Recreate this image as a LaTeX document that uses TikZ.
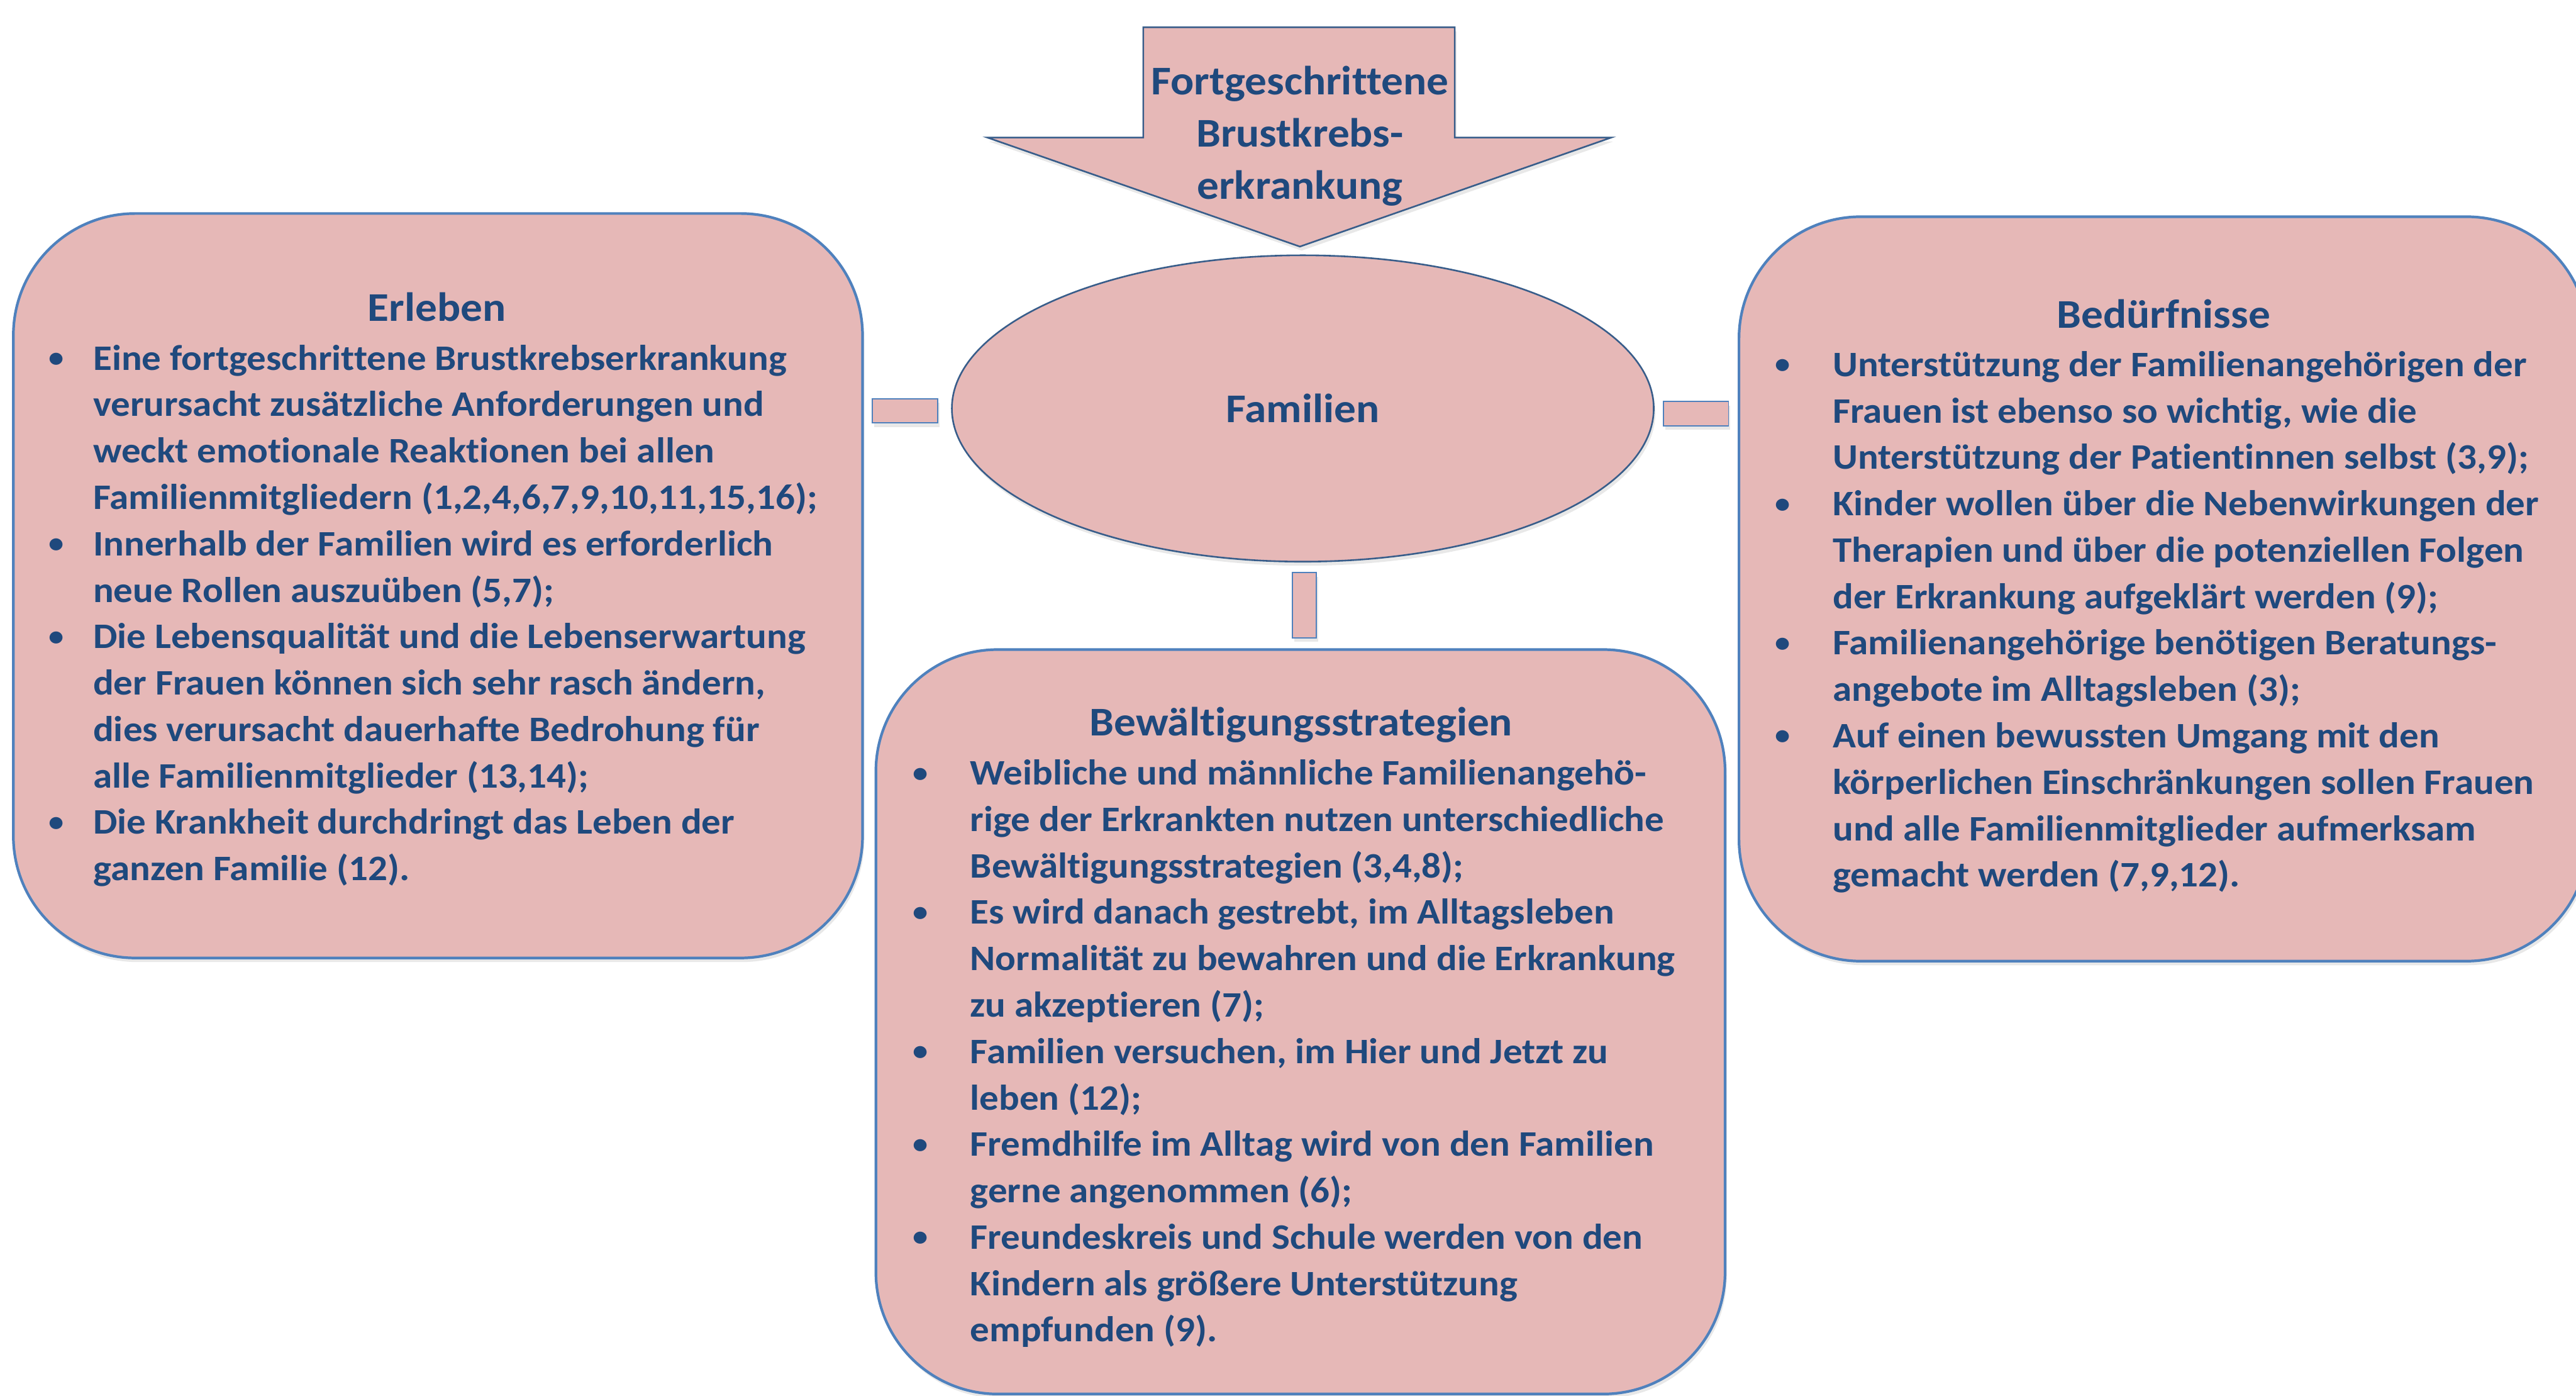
\documentclass[tikz,border=0pt]{standalone}
\usepackage{fontspec}
\setmainfont{Carlito}[FakeStretch=1.07, Ligatures=NoCommon]
\usepackage{tikz}
\usetikzlibrary{shapes.geometric, shadows}
\definecolor{cbpink}{HTML}{E6B8B7}
\definecolor{cbblue}{HTML}{4F81BD}
\definecolor{cbnavy}{HTML}{385D8A}
\definecolor{cbtext}{HTML}{1F497D}
\tikzstyle{softshadow} = [drop shadow={opacity=0.18, shadow xshift=0.03cm, shadow yshift=-0.07cm}]
\tikzstyle{themebox} = [rectangle, rounded corners=2.1cm, minimum width=14.64cm, minimum height=12.83cm,
inner sep=0pt, draw=cbblue, line width=1.3pt, fill=cbpink, softshadow]
\tikzstyle{linkbar} = [rectangle, inner sep=0pt, draw=cbblue, line width=0.6pt, fill=cbpink, softshadow]
\tikzstyle{centre} = [ellipse, minimum width=12.1cm, minimum height=5.28cm, inner sep=0pt,
draw=cbnavy, line width=0.8pt, fill=cbpink, softshadow, text=cbtext, font=\fontsize{20}{25.6}\selectfont\bfseries]
\tikzstyle{bigarrow} = [draw=cbnavy, line width=0.8pt, fill=cbpink, softshadow]
\tikzstyle{heading} = [inner sep=0pt, anchor=base, text=cbtext, font=\fontsize{20}{25.6}\selectfont\bfseries]
\tikzstyle{bullets} = [inner sep=0pt, anchor=north west, align=left, text=cbtext,
font=\fontsize{17.6}{22.76}\selectfont\bfseries]
\newcommand{\bpt}[1]{\llap{\raisebox{0.08em}{\fontsize{14}{14}\selectfont\textbullet}\hspace{#1}}}

\begin{document}
\begin{tikzpicture}
\useasboundingbox (0,0) rectangle (44.41,24.05);

% ------------------------- shapes -------------------------
% ----- arrow: Fortgeschrittene Brustkrebserkrankung
\draw[bigarrow] (19.71,23.58) -- (25.08,23.58) -- (25.08,21.68) -- (27.78,21.68) -- (22.41,19.80)
  -- (17.02,21.68) -- (19.71,21.68) -- cycle;
\node(fbk)[heading, anchor=north, align=center] at (22.41,23.05)
  {\strut Fortgeschrittene\\Brustkrebs-\\erkrankung};
% ----- centre: Familien
\node(fam)[centre] at (22.46,17.01) {Familien};
% ----- boxes
\node(erl)[themebox] at (7.55,13.955) {};
\node(bed)[themebox] at (37.30,13.90) {};
\node(bew)[themebox] at (22.42,6.44) {};
% ----- small bars between the shapes
\node(barl)[linkbar, minimum width=1.13cm, minimum height=0.42cm] at (15.605,16.97) {};
\node(barr)[linkbar, minimum width=1.12cm, minimum height=0.42cm] at (29.24,16.92) {};
\node(barb)[linkbar, minimum width=0.41cm, minimum height=1.12cm] at (22.485,13.62) {};

% ------------------------- texts -------------------------
% ----- Erleben
\node(erlhead)[heading] at (7.53,18.51) {Erleben};
\node(erllist)[bullets] at (1.60,18.24) {\strut\bpt{0.50cm}Eine fortgeschrittene Brustkrebserkrankung\\
verursacht zusätzliche Anforderungen und\\
weckt emotionale Reaktionen bei allen\\
Familienmitgliedern (1,2,4,6,7,9,10,11,15,16);\\
\bpt{0.50cm}Innerhalb der Familien wird es erforderlich\\
neue Rollen auszuüben (5,7);\\
\bpt{0.50cm}Die Lebensqualität und die Lebenserwartung\\
der Frauen können sich sehr rasch ändern,\\
dies verursacht dauerhafte Bedrohung für\\
alle Familienmitglieder (13,14);\\
\bpt{0.50cm}Die Krankheit durchdringt das Leben der\\
ganzen Familie (12).};
% ----- Bedürfnisse
\node(bedhead)[heading] at (37.30,18.40) {Bedürfnisse};
\node(bedlist)[bullets] at (31.59,18.13) {\strut\bpt{0.73cm}Unterstützung der Familienangehörigen der\\
Frauen ist ebenso so wichtig, wie die\\
Unterstützung der Patientinnen selbst (3,9);\\
\bpt{0.73cm}Kinder wollen über die Nebenwirkungen der\\
Therapien und über die potenziellen Folgen\\
der Erkrankung aufgeklärt werden (9);\\
\bpt{0.73cm}Familienangehörige benötigen Beratungs-\\
angebote im Alltagsleben (3);\\
\bpt{0.73cm}Auf einen bewussten Umgang mit den\\
körperlichen Einschränkungen sollen Frauen\\
und alle Familienmitglieder aufmerksam\\
gemacht werden (7,9,12).};
% ----- Bewältigungsstrategien
\node(bewhead)[heading] at (22.43,11.37) {Bewältigungsstrategien};
\node(bewlist)[bullets] at (16.72,11.09) {\strut\bpt{0.73cm}Weibliche und männliche Familienangehö-\\
rige der Erkrankten nutzen unterschiedliche\\
Bewältigungsstrategien (3,4,8);\\
\bpt{0.73cm}Es wird danach gestrebt, im Alltagsleben\\
Normalität zu bewahren und die Erkrankung\\
zu akzeptieren (7);\\
\bpt{0.73cm}Familien versuchen, im Hier und Jetzt zu\\
leben (12);\\
\bpt{0.73cm}Fremdhilfe im Alltag wird von den Familien\\
gerne angenommen (6);\\
\bpt{0.73cm}Freundeskreis und Schule werden von den\\
Kindern als größere Unterstützung\\
empfunden (9).};
\end{tikzpicture}
\end{document}
